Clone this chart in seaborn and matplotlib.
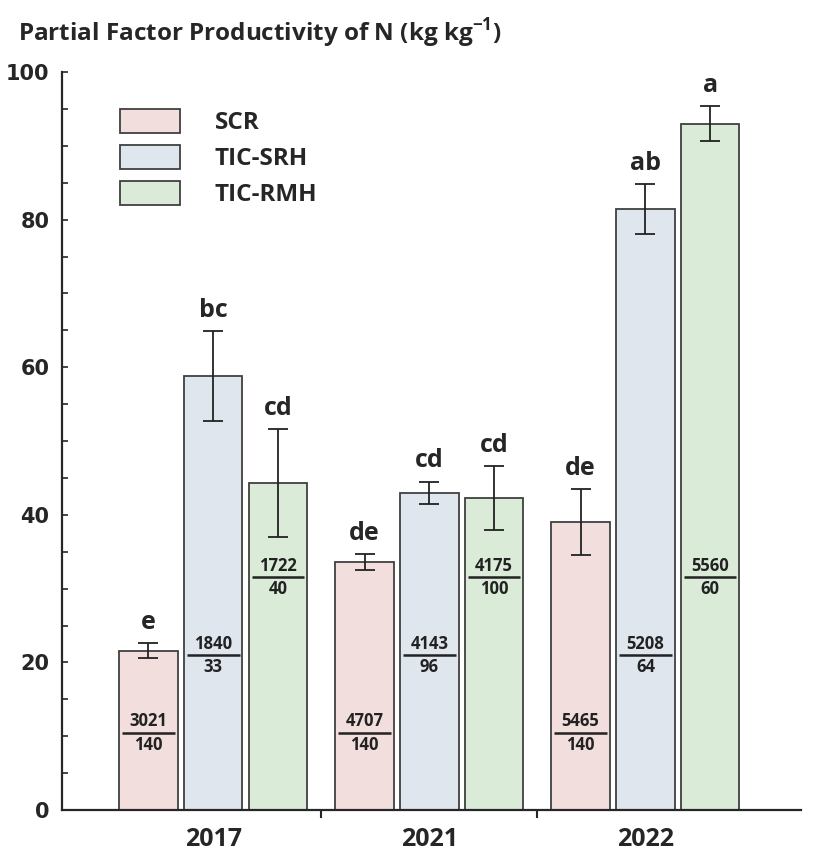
import numpy as np
import pandas as pd
import matplotlib.pyplot as plt
import seaborn as sns

# Data
years = ['2017', '2021', '2022']
treatments = ['SCR', 'TIC-SRH', 'TIC-RMH']

scr_pfp = [21.6, 33.6, 39.0]
srh_pfp = [58.8, 43.0, 81.4]
rmh_pfp = [44.3, 42.3, 93.0]

scr_err = [1.0, 1.1, 4.5]
srh_err = [6.1, 1.5, 3.4]
rmh_err = [7.3, 4.3, 2.4]

scr_letters = ['e', 'de', 'de']
srh_letters = ['bc', 'cd', 'ab']
rmh_letters = ['cd', 'cd', 'a']

# yield / N rate shown inside the bars
scr_num = [3021, 4707, 5465]
srh_num = [1840, 4143, 5208]
rmh_num = [1722, 4175, 5560]
scr_den = [140, 140, 140]
srh_den = [33, 96, 64]
rmh_den = [40, 100, 60]

pfp = [scr_pfp, srh_pfp, rmh_pfp]
errs = [scr_err, srh_err, rmh_err]
letters = [scr_letters, srh_letters, rmh_letters]
nums = [scr_num, srh_num, rmh_num]
dens = [scr_den, srh_den, rmh_den]

df = pd.DataFrame({
    'year': np.tile(years, 3),
    'treatment': np.repeat(treatments, 3),
    'pfp': np.concatenate(pfp),
})

colors = ['#f3dede', '#dfe6ee', '#daecd8']
frac_y = [10.5, 21.0, 31.6]  # height of the fraction line per treatment

sns.set_style('ticks')
plt.rcParams['font.family'] = ['Open Sans', 'DejaVu Sans']
plt.rcParams['mathtext.fontset'] = 'custom'
plt.rcParams['mathtext.rm'] = 'Open Sans'
plt.rcParams['mathtext.bf'] = 'Open Sans:bold'

fig = plt.figure(figsize=(8.29, 8.51), dpi=100)
ax = fig.add_axes([62 / 829, 41 / 851, 739 / 829, 738 / 851])

sns.barplot(data=df, x='year', y='pfp', hue='treatment', order=years,
            hue_order=treatments, palette=colors, width=0.9, gap=0.1,
            edgecolor='#404040', linewidth=1.3, saturation=1, legend=False,
            ax=ax)

bar_groups = list(ax.containers)
for i, cont in enumerate(bar_groups):
    xs = [p.get_x() + p.get_width() / 2 for p in cont.patches]
    ax.errorbar(xs, pfp[i], yerr=errs[i], fmt='none', ecolor='#222222',
                elinewidth=1.3, capsize=7, capthick=1.3, zorder=5)
    for j, p in enumerate(cont.patches):
        top = pfp[i][j] + errs[i][j]
        ax.annotate(letters[i][j], (xs[j], top), xytext=(0, 6),
                    textcoords='offset points', ha='center', va='bottom',
                    fontsize=18, fontweight='bold')
        x0, w = p.get_x(), p.get_width()
        ax.hlines(frac_y[i], x0 + 0.05 * w, x0 + 0.95 * w, color='#222222',
                  linewidth=1.8, zorder=5)
        ax.annotate(str(nums[i][j]), (xs[j], frac_y[i]), xytext=(0, 1.5),
                    textcoords='offset points', ha='center', va='bottom',
                    fontsize=12, fontweight='bold', color='#222222')
        ax.annotate(str(dens[i][j]), (xs[j], frac_y[i]), xytext=(0, -2.5),
                    textcoords='offset points', ha='center', va='top',
                    fontsize=12, fontweight='bold', color='#222222')

ax.set_xlim(-0.70, 2.72)
ax.set_ylim(0, 100)
ax.set_xlabel('')
ax.set_ylabel('')

ax.set_yticks(np.arange(0, 101, 20))
ax.set_yticks(np.arange(0, 101, 5), minor=True)
ax.set_yticklabels([str(v) for v in range(0, 101, 20)],
                   fontfamily='DejaVu Sans', fontweight='bold', fontsize=15)
ax.tick_params(axis='y', which='both', direction='in', length=4, width=1.2,
               pad=9)

ax.set_xticks([0, 1, 2])
ax.set_xticklabels(years, fontsize=18, fontweight='bold')
ax.set_xticks([0.5, 1.5], minor=True)
ax.tick_params(axis='x', which='major', length=0, pad=12)
ax.tick_params(axis='x', which='minor', direction='out', length=6, width=1.5)

sns.despine(ax=ax)
for s in ['left', 'bottom']:
    ax.spines[s].set_linewidth(1.6)

handles = [c.patches[0] for c in bar_groups]
ax.legend(handles, treatments, loc='upper left',
          bbox_to_anchor=(108 / 829, 1 - 97 / 851),
          bbox_transform=fig.transFigure, frameon=False, borderpad=0,
          handlelength=2.45, handleheight=1.15, handletextpad=1.45,
          labelspacing=0.4, prop={'weight': 'bold', 'size': 17.5})

fig.text(18 / 829, 1 - 33 / 851,
         r'Partial Factor Productivity of N (kg kg$^{\mathbf{-1}}$)',
         ha='left', va='center', fontsize=17.5, fontweight='bold')

fig.savefig('out.png', dpi=100)
